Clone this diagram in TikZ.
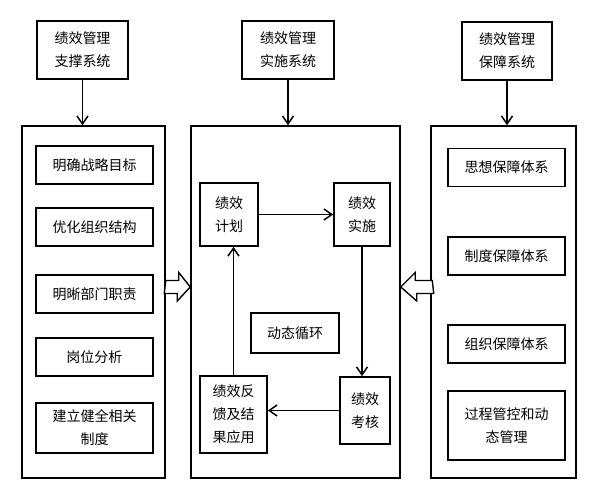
\documentclass[tikz,border=0pt]{standalone}
\usepackage{fontspec}
\newfontfamily\cjk{Noto Sans CJK SC}
\usetikzlibrary{arrows.meta}

\begin{document}
\begin{tikzpicture}[x=1pt, y=-1pt, line width=1.6pt,
  box/.style={draw, black, inner sep=0pt, align=center,
    font=\cjk\fontsize{14}{23}\selectfont},
  panel/.style={draw, black, inner sep=0pt, line width=1.5pt},
  conn/.style={-{Straight Barb[length=8pt, width=11pt, line width=1.5pt]}, line width=1.5pt},
  fat/.style={draw, fill=white, line width=1.4pt, line join=miter}]
\useasboundingbox (0,0) rectangle (590,494);
% top systems
\node[box, minimum width=91, minimum height=58] (sup) at (82.5,50) {绩效管理\\支撑系统};
\node[box, minimum width=92, minimum height=58] (imp) at (288,50) {绩效管理\\实施系统};
\node[box, minimum width=90, minimum height=58] (gua) at (507,51) {绩效管理\\保障系统};
% panels
\node[panel, minimum width=143, minimum height=352] (pL) at (93.5,302) {};
\node[panel, minimum width=209, minimum height=352] (pM) at (295.5,302) {};
\node[panel, minimum width=145, minimum height=352] (pR) at (503.5,302) {};
\draw[conn] (sup.south) -- (sup.south |- pL.north);
\draw[conn] (imp.south) -- (imp.south |- pM.north);
\draw[conn] (gua.south) -- (gua.south |- pR.north);
% left panel
\node[box, minimum width=117, minimum height=38] (mubiao) at (94.5,165) {明确战略目标};
\node[box, minimum width=117, minimum height=38] (jiegou) at (94.5,227) {优化组织结构};
\node[box, minimum width=117, minimum height=38] (zhize) at (94.5,294) {明晰部门职责};
\node[box, minimum width=117, minimum height=38] (gangwei) at (94.5,357) {岗位分析};
\node[box, minimum width=117, minimum height=50] (zhidu) at (94.5,428) {建立健全相关\\制度};
% right panel
\node[box, minimum width=117, minimum height=38] (sixiang) at (506.5,167.5) {思想保障体系};
\node[box, minimum width=117, minimum height=38] (zdbz) at (506.5,256) {制度保障体系};
\node[box, minimum width=117, minimum height=38] (zzbz) at (506.5,344) {组织保障体系};
\node[box, minimum width=117, minimum height=69] (guocheng) at (506.5,425.5) {过程管控和动\\态管理};
% middle panel
\node[box, minimum width=58, minimum height=63] (plan) at (229,214.5) {绩效\\计划};
\node[box, minimum width=56, minimum height=63] (exec) at (362,214.5) {绩效\\实施};
\node[box, minimum width=88, minimum height=40] (loop) at (295,333) {动态循环};
\node[box, minimum width=67, minimum height=77] (fb) at (233.5,414.5) {绩效反\\馈及结\\果应用};
\node[box, minimum width=50, minimum height=67] (eval) at (365,410.5) {绩效\\考核};
\draw[conn] (plan.east) -- (plan.east -| exec.west);
\draw[conn] (exec.south) -- (exec.south |- eval.north);
\draw[conn] (eval.west) -- (eval.west -| fb.east);
\draw[conn] (fb.north) -- (fb.north |- plan.south);
% hollow arrows
\coordinate (la) at (pL.east |- 0,287);
\coordinate (ra) at (pR.west |- 0,287);
\draw[fat] (la) ++(0,-6.5) -- ++(13,0) -- ++(0,-8) -- (pM.west |- la) -- ++(-13,14) -- ++(0,-7.5) -- ++(-13,0) -- cycle;
\draw[fat] (ra) ++(2,-6.5) -- ++(-17,0) -- ++(0,-8) -- (pM.east |- ra) -- ++(16,14) -- ++(0,-7.5) -- ++(17,0) -- cycle;
\end{tikzpicture}
\end{document}
